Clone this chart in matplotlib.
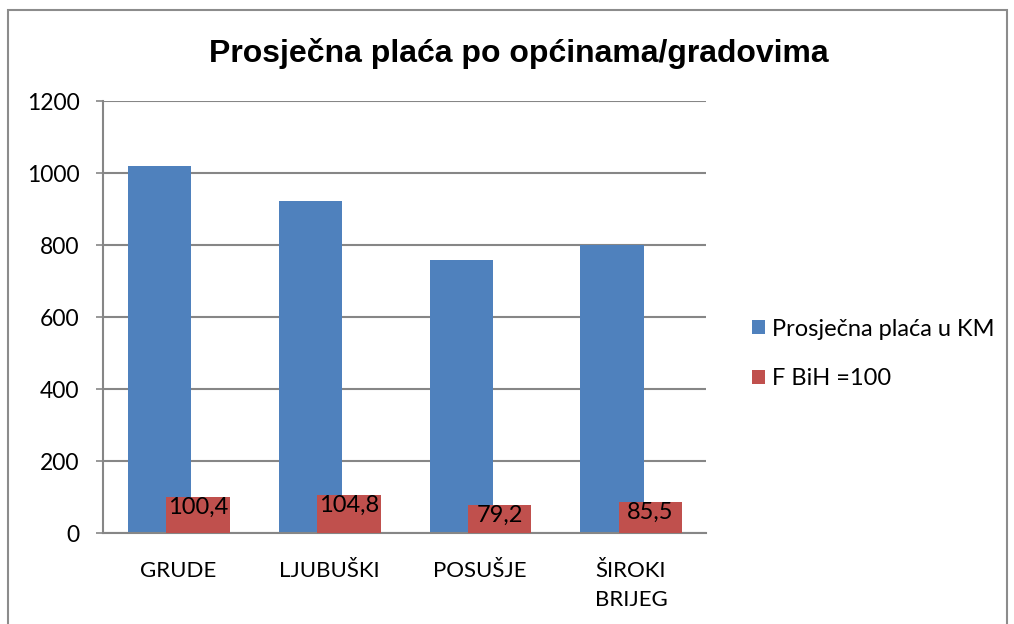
import matplotlib.pyplot as plt
import numpy as np
from matplotlib.patches import Rectangle

categories = ['GRUDE', 'LJUBUŠKI', 'POSUŠJE', 'ŠIROKI\nBRIJEG']
placa_km = [1020, 923, 758, 800]
fbih_index = [100.4, 104.8, 79.2, 85.5]
index_labels = ['100,4', '104,8', '79,2', '85,5']

blue = '#4F81BD'
red = '#C0504D'
grid_col = '#868686'
font = 'Lato'

fig = plt.figure(figsize=(10.14, 6.24), dpi=100)
ax = fig.add_axes([0.1016, 0.1458, 0.5950, 0.6923])

x = np.arange(len(categories))
w = 0.42
ax.bar(x - 0.125, placa_km, w, color=blue, label='Prosječna plaća u KM', zorder=2)
bars = ax.bar(x + 0.13, fbih_index, w, color=red, label='F BiH =100', zorder=3)

for b, txt in zip(bars, index_labels):
    ax.annotate(txt, (b.get_x() + b.get_width() / 2, b.get_height()),
                xytext=(0, 0), textcoords='offset points', ha='center', va='top',
                fontsize=17, family=font, color='black', zorder=4)

ax.set_xlim(-0.5, 3.5)
ax.set_ylim(0, 1200)
ax.set_yticks(range(0, 1201, 200))
ax.set_xticks(x)
ax.set_xticklabels(categories, fontsize=16, family=font, linespacing=1.55)
ax.tick_params(axis='x', length=0, pad=20)
ax.tick_params(axis='y', length=5, width=1.2, color=grid_col, labelsize=16.5, pad=12)
for lbl in ax.get_yticklabels():
    lbl.set_family(font)
ax.yaxis.grid(True, color=grid_col, linewidth=1.5, zorder=0)
ax.set_axisbelow(True)
for s in ['top', 'right']:
    ax.spines[s].set_visible(False)
ax.spines['left'].set_color(grid_col)
ax.spines['left'].set_linewidth(1.5)
ax.spines['bottom'].set_color(grid_col)
ax.spines['bottom'].set_linewidth(1.5)

fig.text(0.512, 0.914, 'Prosječna plaća po općinama/gradovima', ha='center', va='center',
         fontsize=23, fontweight='bold', family='Liberation Sans')

leg = fig.legend(loc='center left', bbox_to_anchor=(0.7416, 0.433), frameon=False,
                 prop={'family': font, 'size': 17}, handlelength=0.55, handleheight=0.55,
                 labelspacing=1.2, handletextpad=0.3, borderpad=0, borderaxespad=0)

fig.patches.append(Rectangle((8 / 1014, -0.1), 999 / 1014, 1 - 10 / 624 + 0.1,
                             transform=fig.transFigure, fill=False,
                             edgecolor='#8c8c8c', linewidth=1.5))

plt.savefig('out.png')
